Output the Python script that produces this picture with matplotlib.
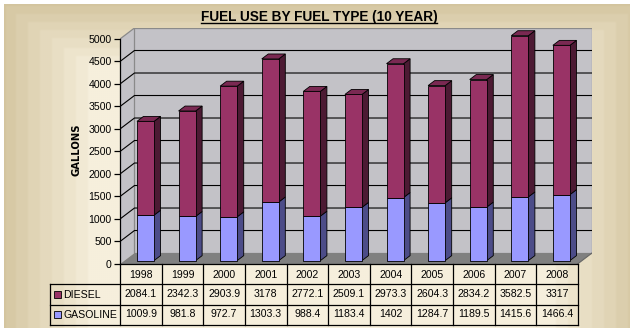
"""Fuel use by fuel type (10 year) - Excel style 3D stacked columns with data table."""
import numpy as np
import matplotlib
matplotlib.use("Agg")
import matplotlib.pyplot as plt
from matplotlib.patches import Polygon, Rectangle

YILLAR = ["1998", "1999", "2000", "2001", "2002", "2003", "2004", "2005", "2006", "2007", "2008"]
DIESEL = [2084.1, 2342.3, 2903.9, 3178, 2772.1, 2509.1, 2973.3, 2604.3, 2834.2, 3582.5, 3317]
GASOLINE = [1009.9, 981.8, 972.7, 1303.3, 988.4, 1183.4, 1402, 1284.7, 1189.5, 1415.6, 1466.4]
SERILER = ["DIESEL", "GASOLINE"]
Y_TICKS = list(range(0, 5001, 500))

# renkler (Excel klasik paleti)
DIESEL_ON, DIESEL_YAN, DIESEL_UST = "#993366", "#4C1A33", "#7A2952"
GAS_ON, GAS_YAN = "#9999FF", "#4C4C88"
DUVAR, ZEMIN = "#C3C2C7", "#808080"

W, H = 638, 336
DX, DY = 0.348, 244.0      # derinlik kayması (kategori, galon)
D0, D1 = 0.31, 0.76        # çubuğun ön/arka derinliği
BOSLUK, GENISLIK = 0.30, 0.41

plt.rcParams["font.family"] = ["Liberation Sans", "DejaVu Sans"]
fig = plt.figure(figsize=(W / 100, H / 100), dpi=100)


def fk(x0, y0, x1, y1):
    """piksel kutusu -> figür koordinatı"""
    return [x0 / W, 1 - y1 / H, (x1 - x0) / W, (y1 - y0) / H]


# Arka plan gradyanı
bg = fig.add_axes(fk(4, 4, 630, 328))
bg.set_axis_off()
xx, yy = np.meshgrid(np.linspace(0, 626, 313), np.linspace(0, 324, 162))
t = np.maximum(np.abs(xx - 318) / 318, np.abs(yy - 228) / 228)
t = np.clip((t - 0.70) / 0.30, 0, 1)
t = np.floor(t * 8) / 8
acik = np.array([0xF6, 0xEF, 0xDC]) / 255
koyu = np.array([0xD3, 0xC4, 0x9E]) / 255
img = acik[None, None, :] * (1 - t[..., None]) + koyu[None, None, :] * t[..., None]
bg.imshow(img, aspect="auto", extent=[0, 1, 0, 1], interpolation="bilinear")
bg.set_xlim(0, 1)
bg.set_ylim(0, 1)

# Ana grafik ekseni
ax = fig.add_axes(fk(120, 28, 592, 264))
n = len(YILLAR)
ax.set_xlim(0, n + DX)
ax.set_ylim(0, 5000 + DY)
ax.patch.set_visible(False)
for s in ["top", "right", "bottom"]:
    ax.spines[s].set_visible(False)
ax.spines["left"].set_bounds(0, 5000)
ax.spines["left"].set_linewidth(0.9)
ax.set_xticks([])
ax.set_yticks(Y_TICKS)
ax.tick_params(axis="y", length=4, width=0.9, pad=2, labelsize=7.6)

# yan duvar + arka duvar + zemin
ax.add_patch(Polygon([(0, 0), (0, 5000), (DX, 5000 + DY), (DX, DY)],
                     closed=True, facecolor=DUVAR, edgecolor="none", zorder=0))
ax.add_patch(Rectangle((DX, DY), n, 5000, facecolor=DUVAR, edgecolor="#8A8A8A",
                       linewidth=0.9, zorder=0.5))
ax.plot([0, DX], [5000, 5000 + DY], color="#8A8A8A", lw=0.9, zorder=0.6)
for v in Y_TICKS[1:-1]:
    ax.plot([0, DX, n + DX], [v, v + DY, v + DY], color="black", lw=0.8, zorder=1)
ax.add_patch(Polygon([(0, 0), (n, 0), (n + DX, DY), (DX, DY)], closed=True,
                     facecolor=ZEMIN, edgecolor="none", zorder=1.5))
ax.plot([n, n + DX], [0, DY], color="#666666", lw=0.8, zorder=1.6)


def cubuk(i, alt, ust, on, yan, tepe=None):
    x0 = i + BOSLUK + D0 * DX
    x1 = x0 + GENISLIK
    y0, y1 = alt + D0 * DY, ust + D0 * DY
    ddx, ddy = (D1 - D0) * DX, (D1 - D0) * DY
    kw = dict(closed=True, edgecolor="black", linewidth=0.6, zorder=3)
    ax.add_patch(Polygon([(x1, y0), (x1 + ddx, y0 + ddy), (x1 + ddx, y1 + ddy), (x1, y1)],
                         facecolor=yan, **kw))
    if tepe:
        ax.add_patch(Polygon([(x0, y1), (x1, y1), (x1 + ddx, y1 + ddy), (x0 + ddx, y1 + ddy)],
                             facecolor=tepe, **kw))
    ax.add_patch(Polygon([(x0, y0), (x1, y0), (x1, y1), (x0, y1)], facecolor=on, **kw))


for i in range(n):
    cubuk(i, 0, GASOLINE[i], GAS_ON, GAS_YAN)
    cubuk(i, GASOLINE[i], GASOLINE[i] + DIESEL[i], DIESEL_ON, DIESEL_YAN, DIESEL_UST)

# Başlık
baslik = fig.text(319 / W, 1 - 21 / H, "FUEL USE BY FUEL TYPE (10 YEAR)", ha="center",
                  va="baseline", fontsize=9.8, fontweight="bold", family="Liberation Sans")
fig.canvas.draw()
bb = baslik.get_window_extent()
fig.add_artist(plt.Line2D([bb.x0 / W, bb.x1 / W], [1 - 23 / H] * 2, color="black",
                          lw=1.0, transform=fig.transFigure))
fig.text(76 / W, 1 - 149.5 / H, "GALLONS", rotation=90, ha="center", va="center",
         fontsize=7.2, fontweight="bold", family="DejaVu Sans")

# Veri tablosu
tax = fig.add_axes(fk(50, 264, 578, 325))
tax.set_xlim(-70 / 41.636, n)
tax.set_ylim(3, 0)
tax.set_axis_off()
lc = dict(color="black", lw=0.9, clip_on=False)
tax.plot([0, n], [0, 0], **lc)
tax.plot([-70 / 41.636, n], [1, 1], **lc)
tax.plot([-70 / 41.636, n], [2, 2], **lc)
tax.plot([-70 / 41.636, n], [3, 3], **lc)
tax.plot([-70 / 41.636] * 2, [1, 3], **lc)
for i in range(n + 1):
    tax.plot([i, i], [0, 3], **lc)

fs = 7.6
for i in range(n):
    tax.text(i + 0.5, 0.52, YILLAR[i], ha="center", va="center", fontsize=fs)
    tax.text(i + 0.5, 1.48, f"{DIESEL[i]:g}", ha="center", va="center", fontsize=fs)
    tax.text(i + 0.5, 2.48, f"{GASOLINE[i]:g}", ha="center", va="center", fontsize=fs)

x_leg = -70 / 41.636
for r, (ad, renk) in enumerate(zip(SERILER, [DIESEL_ON, GAS_ON])):
    tax.add_patch(Rectangle((x_leg + 4 / 41.636, r + 1.5 - 0.17), 7 / 41.636, 0.34,
                            facecolor=renk, edgecolor="black", lw=0.6, clip_on=False))
    tax.text(x_leg + 13 / 41.636, r + 1.5, ad, ha="left", va="center", fontsize=fs)

fig.savefig("out.png", dpi=100)
